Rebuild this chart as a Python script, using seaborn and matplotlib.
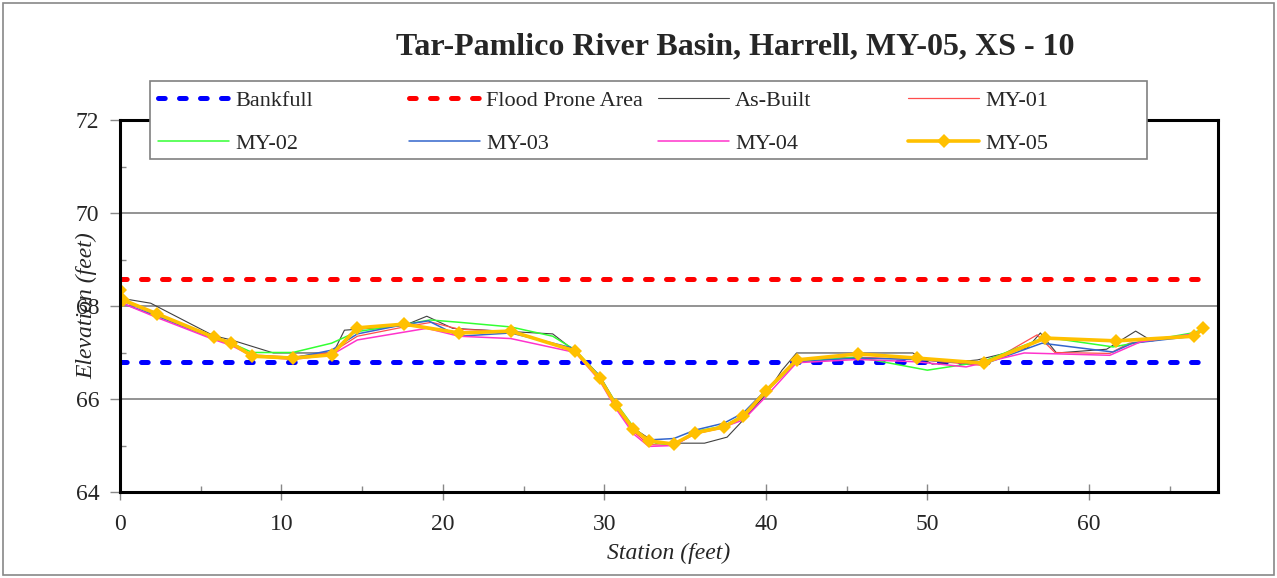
import numpy as np
import pandas as pd
import matplotlib
matplotlib.use("Agg")
import matplotlib.pyplot as plt
import seaborn as sns
from matplotlib.lines import Line2D
from matplotlib.patches import Rectangle

# Survey data (station, elevation)
bankfull_x = [0, 67.1]
bankfull_y = [66.8, 66.8]
flood_x = [0, 67.1]
flood_y = [68.57, 68.57]

asbuilt_x = [0, 1.9, 5.8, 6.9, 9.5, 13.2, 13.9, 14.7, 17.6, 19.0, 20.6, 24.2, 26.8, 28.1, 29.7,
             30.8, 31.6, 33.2, 36.2, 37.6, 38.6, 40.0, 41.0, 41.9, 45.6, 49.1, 50.3, 53.1, 56.2,
             57.0, 58.0, 61.1, 62.9, 63.9, 66.4, 67.1]
asbuilt_y = [68.17, 68.06, 67.36, 67.27, 66.99, 66.99, 67.48, 67.5, 67.58, 67.78, 67.52, 67.45,
             67.4, 67.05, 66.45, 65.76, 65.42, 65.05, 65.05, 65.18, 65.55, 66.1, 66.62, 66.99,
             66.99, 66.99, 66.75, 66.84, 67.1, 67.42, 66.99, 67.07, 67.46, 67.25, 67.38, 67.5]

my01_x = [0, 0.2, 2.3, 5.8, 6.9, 8.2, 10.7, 13.1, 14.7, 17.6, 19.3, 21.0, 24.2, 28.2, 29.7, 30.7,
          31.8, 32.75, 34.3, 35.6, 37.4, 38.6, 40.0, 41.9, 45.7, 49.35, 53.5, 56.8, 57.9, 61.3,
          62.5, 66.5, 67.1]
my01_y = [68.25, 68.1, 67.8, 67.3, 67.2, 66.95, 66.9, 67.0, 67.35, 67.55, 67.65, 67.5, 67.45,
          67.05, 66.45, 65.85, 65.3, 65.02, 65.0, 65.25, 65.38, 65.6, 66.15, 66.85, 66.9, 66.85,
          66.72, 67.38, 67.0, 66.98, 67.2, 67.38, 67.5]

my02_x = [0, 0.2, 2.3, 5.8, 6.9, 8.2, 10.7, 13.1, 14.7, 17.6, 19.2, 21.0, 24.2, 26.8, 28.2, 29.7,
          30.7, 31.8, 32.75, 34.3, 35.6, 37.4, 38.6, 40.0, 41.9, 45.7, 50.0, 53.4, 57.3, 61.5,
          66.4, 67.1]
my02_y = [68.2, 68.15, 67.8, 67.35, 67.2, 67.0, 67.0, 67.2, 67.45, 67.6, 67.7, 67.65, 67.55,
          67.35, 67.05, 66.5, 65.92, 65.4, 65.08, 65.0, 65.3, 65.42, 65.65, 66.15, 66.8, 66.9,
          66.62, 66.8, 67.33, 67.12, 67.42, 67.5]

my03_x = [0, 0.2, 2.3, 5.8, 6.9, 8.2, 10.7, 13.1, 14.7, 17.6, 19.1, 21.0, 24.2, 28.0, 29.7, 30.7,
          31.8, 32.75, 34.3, 35.6, 37.4, 38.6, 40.3, 41.9, 45.7, 49.35, 53.5, 57.1, 61.5, 62.7,
          66.5, 67.1]
my03_y = [68.2, 68.05, 67.78, 67.3, 67.18, 66.93, 66.88, 67.05, 67.4, 67.6, 67.68, 67.35, 67.42,
          67.1, 66.5, 65.9, 65.35, 65.12, 65.15, 65.33, 65.48, 65.7, 66.3, 66.8, 66.88, 66.85,
          66.75, 67.2, 67.01, 67.2, 67.35, 67.5]

my04_x = [0, 0.2, 2.3, 5.8, 6.9, 8.2, 10.7, 13.1, 14.7, 19.0, 21.0, 24.2, 28.2, 29.7, 30.7, 31.8,
          32.75, 34.3, 35.6, 37.4, 38.6, 40.0, 41.9, 45.7, 49.35, 52.4, 56.0, 61.3, 63.2, 66.5, 67.1]
my04_y = [68.15, 68.05, 67.75, 67.28, 67.15, 66.92, 66.85, 66.95, 67.27, 67.52, 67.35, 67.3, 67.0,
          66.4, 65.8, 65.25, 64.98, 65.0, 65.25, 65.4, 65.55, 66.05, 66.78, 66.85, 66.8, 66.69,
          66.99, 66.94, 67.23, 67.4, 67.5]

my05_x = [0, 0.2, 2.3, 5.8, 6.9, 8.2, 10.7, 13.1, 14.7, 17.6, 21.0, 24.2, 28.2, 29.7, 30.7, 31.8,
          32.75, 34.3, 35.6, 37.4, 38.6, 40.0, 41.9, 45.7, 49.35, 53.5, 57.3, 61.7, 66.5, 67.1]
my05_y = [68.34, 68.13, 67.83, 67.33, 67.2, 66.92, 66.88, 66.95, 67.53, 67.61, 67.42, 67.46,
          67.03, 66.45, 65.87, 65.35, 65.1, 65.03, 65.27, 65.4, 65.63, 66.17, 66.84, 66.97, 66.88,
          66.77, 67.31, 67.25, 67.35, 67.52]

x_ticks = [0, 10, 20, 30, 40, 50, 60]
y_ticks = [64, 66, 68, 70, 72]

sns.set_style("white")
plt.rcParams['font.family'] = ['Liberation Serif', 'DejaVu Serif']

W, H = 1277, 578
fig = plt.figure(figsize=(W / 100, H / 100), dpi=100)
ax = fig.add_axes([120/W, 86/H, 1098/W, 372/H])

dash = (0, (1.34, 2.86))
styles = [
    ("Bankfull", bankfull_x, bankfull_y, dict(color="#0000FF", lw=3.6, linestyle=dash, dash_capstyle="round")),
    ("Flood Prone Area", flood_x, flood_y, dict(color="#FF0000", lw=3.6, linestyle=dash, dash_capstyle="round")),
    ("As-Built", asbuilt_x, asbuilt_y, dict(color="#404040", lw=0.8)),
    ("MY-01", my01_x, my01_y, dict(color="#FF4D4D", lw=0.9)),
    ("MY-02", my02_x, my02_y, dict(color="#33FF33", lw=1.1)),
    ("MY-03", my03_x, my03_y, dict(color="#3366CC", lw=1.1)),
    ("MY-04", my04_x, my04_y, dict(color="#FF33CC", lw=1.1)),
    ("MY-05", my05_x, my05_y, dict(color="#FFC000", lw=2.6, marker="D", markersize=7.5, markeredgewidth=0)),
]

for name, xs, ys, kw in styles:
    df = pd.DataFrame({"x": xs, "y": ys})
    sns.lineplot(data=df, x="x", y="y", ax=ax, sort=False, estimator=None, legend=False, **kw)

ax.set_xlim(0, 68)
ax.set_ylim(64, 72)
ax.set_xticks(x_ticks)
ax.set_yticks(y_ticks)
ax.set_xticks(np.arange(0, 68, 5), minor=True)
ax.set_yticks(np.arange(64, 72.1, 1), minor=True)
ax.grid(axis="y", which="major", color="#808080", lw=1.2)
ax.grid(axis="x", visible=False)
for s in ax.spines.values():
    s.set_color("black")
    s.set_linewidth(2.2)
ax.tick_params(axis="y", which="major", direction="out", length=7, width=1, color="#888888",
               labelsize=17, pad=8, left=True)
ax.tick_params(axis="y", which="minor", direction="in", length=4, width=1, color="#888888", left=True)
ax.tick_params(axis="x", which="major", direction="inout", length=11, width=1, color="#888888",
               labelsize=17, pad=10, bottom=True)
ax.tick_params(axis="x", which="minor", direction="in", length=4, width=1, color="#888888", bottom=True)

ax.set_xlabel("Station (feet)", fontsize=17, style="italic", labelpad=6)
ax.set_ylabel("Elevation (feet)", fontsize=17, style="italic", labelpad=-16)

fig.text(735/W, 1 - 47/H, "Tar-Pamlico River Basin, Harrell, MY-05, XS - 10",
         ha="center", va="center", fontsize=23, fontweight="bold")

# legend box with four equal-width columns, like the spreadsheet legend
box = Rectangle((150/W, 1 - 159/H), 997/W, 78/H, transform=fig.transFigure,
                facecolor="white", edgecolor="#808080", lw=1.2, zorder=9)
fig.patches.append(box)

handles = {name: Line2D([], [], **kw) for name, xs, ys, kw in styles}
columns = [["Bankfull", "MY-02"], ["Flood Prone Area", "MY-03"],
           ["As-Built", "MY-04"], ["MY-01", "MY-05"]]
col_x = [158, 409, 658, 908]
for names, cx in zip(columns, col_x):
    leg = fig.legend([handles[n] for n in names], names, loc="center left",
                     bbox_to_anchor=(cx / W, 1 - 122/H), frameon=False, fontsize=16,
                     handlelength=3.2, handletextpad=0.27, labelspacing=1.0,
                     borderpad=0, borderaxespad=0)
    leg.set_zorder(10)

fig.patches.append(Rectangle((3/W, 3/H), 1271/W, 572/H, transform=fig.transFigure,
                             fill=False, edgecolor="#888888", lw=1.2))

fig.savefig("out.png", dpi=100)
